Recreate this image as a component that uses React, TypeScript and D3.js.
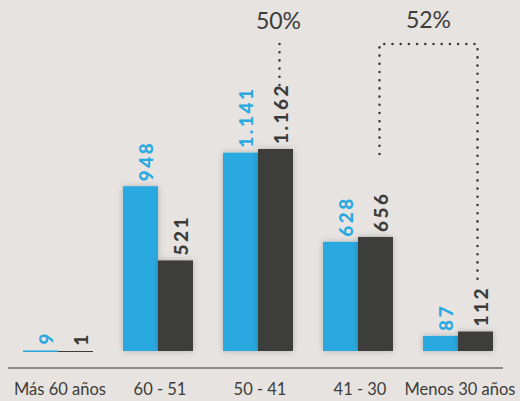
import React from "react";
import * as d3 from "d3";

const categories = ["Más 60 años", "60 - 51", "50 - 41", "41 - 30", "Menos 30 años"];
const blueValues = [9, 948, 1141, 628, 87];
const darkValues = [1, 521, 1162, 656, 112];
const seriesKeys = ["blue", "dark"];
const percentLabels = ["50%", "52%"];

const W = 520;
const H = 401;
const BLUE = "#29a9e0";
const DARK = "#3c3c3b";
const BG = "#e6e3e0";

const fmt = (v: number) => d3.format(",")(v).replace(/,/g, ".");

export default function App() {
  const x = d3.scaleBand<string>().domain(categories).range([8, 508]).paddingInner(0.3).paddingOuter(0.15);
  const xs = d3.scaleBand<string>().domain(seriesKeys).range([0, x.bandwidth()]);
  const y = d3.scaleLinear().domain([0, d3.max(darkValues)!]).range([351, 149]);

  const bars = categories.flatMap((c, i) => [
    { c, key: "blue", v: blueValues[i], color: BLUE },
    { c, key: "dark", v: darkValues[i], color: DARK },
  ]);

  const cx = (c: string, k: string) => (x(c) as number) + (xs(k) as number) + xs.bandwidth() / 2;

  const x50 = cx(categories[2], "dark") + 4;
  const x52a = cx(categories[3], "dark") + 4;
  const x52b = cx(categories[4], "dark") + 2;
  const topY = 44;
  const dotStyle = { stroke: DARK, strokeWidth: 2.6, strokeLinecap: "round" as const, strokeDasharray: "0 8.2", fill: "none" };

  return (
    <svg width={W} height={H} style={{ position: "absolute", left: 0, top: 0 }} fontFamily="Lato, 'Open Sans', sans-serif">
      <defs>
        <filter id="sh" x="-30%" y="-30%" width="160%" height="160%">
          <feDropShadow dx="0" dy="0" stdDeviation="3" floodColor="#000" floodOpacity="0.22" />
        </filter>
      </defs>
      <rect width={W} height={H} fill={BG} />
      {bars.map((b, i) => {
        const h = Math.max(1, y(0) - y(b.v));
        return (
          <rect
            key={"b" + i}
            x={(x(b.c) as number) + (xs(b.key) as number)}
            y={y(0) - h + (b.v < 20 ? 1 : 0)}
            width={xs.bandwidth()}
            height={h}
            fill={b.color}
            filter={b.v > 20 ? "url(#sh)" : undefined}
          />
        );
      })}
      {bars.map((b, i) => {
        const tx = cx(b.c, b.key) + 5;
        const ty = y(b.v) - 5;
        return (
          <text
            key={"l" + i}
            transform={`translate(${tx},${ty}) rotate(-90)`}
            textAnchor="start"
            dominantBaseline="central"
            fontSize={19}
            fontWeight={900}
            letterSpacing={2.5}
            fill={b.color}
          >
            {fmt(b.v)}
          </text>
        );
      })}
      <line x1={8} x2={503} y1={368} y2={368} stroke="#707070" strokeWidth={1.5} />
      {categories.map((c) => (
        <text key={c} x={(x(c) as number) + x.bandwidth() / 2 + 2} y={395} textAnchor="middle" fontSize={16.5} fill={DARK}>
          {c}
        </text>
      ))}
      <path d={`M${x50},${topY}V${y(darkValues[2]) - 60}`} style={dotStyle} />
      <path d={`M${x52a},154V${topY}H${x52b}V${y(darkValues[4]) - 46}`} style={dotStyle} />
      <text x={x50 - 1} y={29} textAnchor="middle" fontSize={23} fontWeight={400} fill={DARK}>
        {percentLabels[0]}
      </text>
      <text x={(x52a + x52b) / 2} y={28} textAnchor="middle" fontSize={23} fontWeight={400} fill={DARK}>
        {percentLabels[1]}
      </text>
    </svg>
  );
}
